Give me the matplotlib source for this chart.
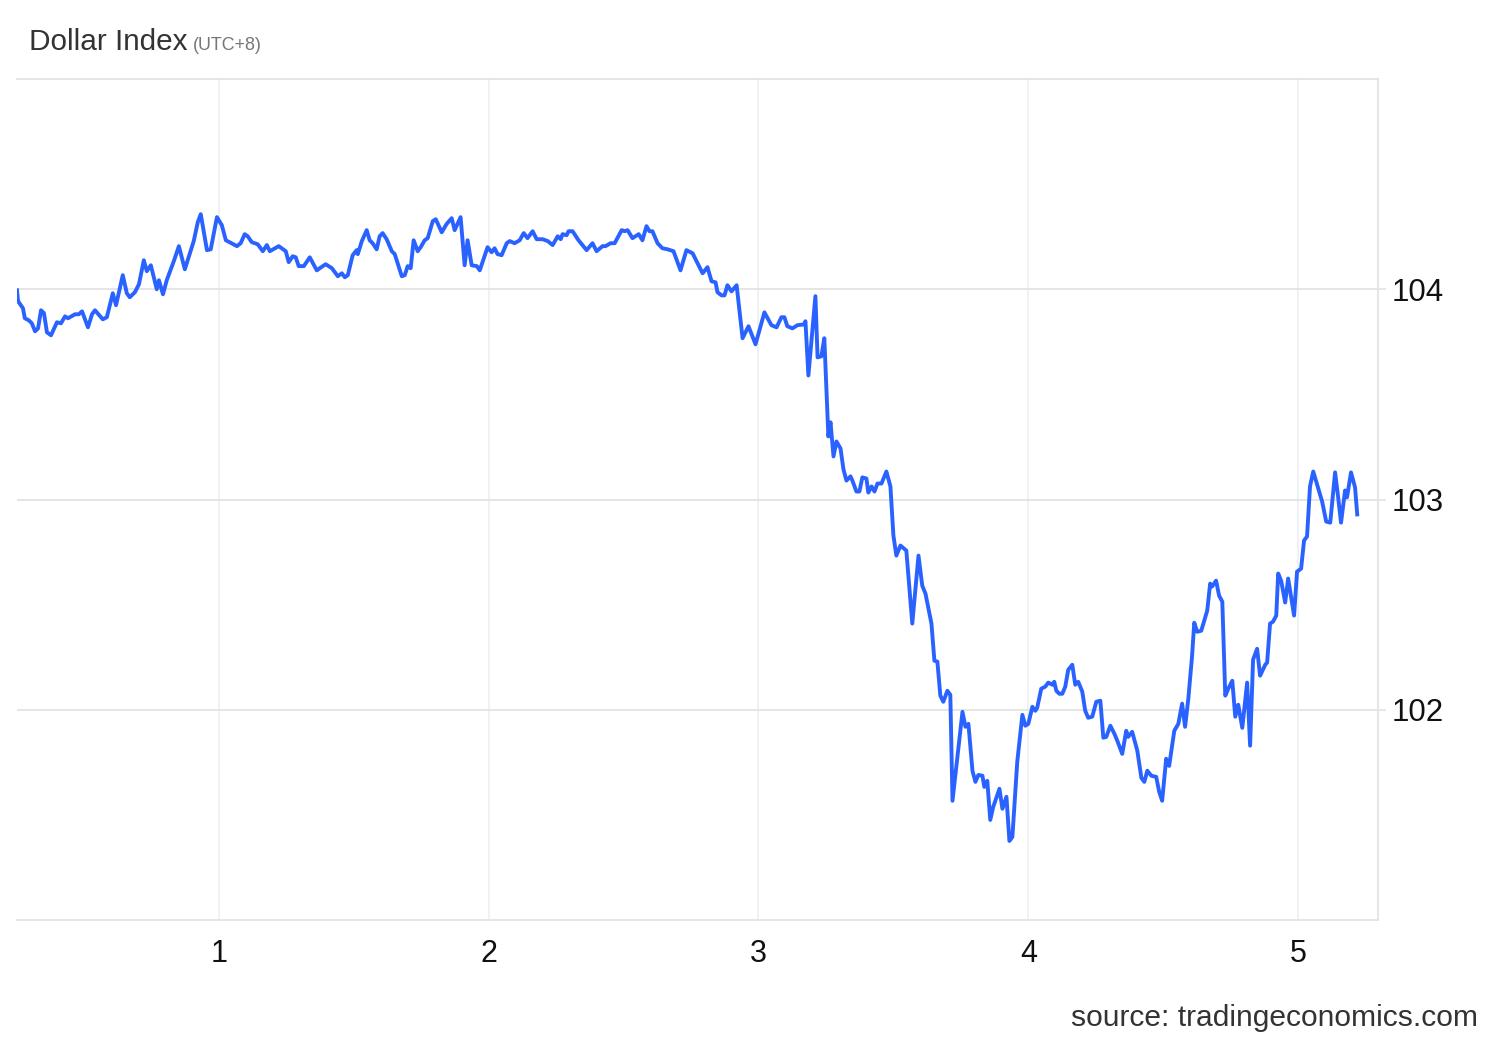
import matplotlib
matplotlib.use("Agg")
import matplotlib.pyplot as plt

plt.rcParams["font.family"] = ["Liberation Sans", "DejaVu Sans"]

# ---- datos (dia, indice) ----
dias = [
    0.252, 0.256, 0.274, 0.281, 0.296, 0.307, 0.319, 0.330, 0.341, 0.352,
    0.363, 0.378, 0.393, 0.400, 0.415, 0.430, 0.441, 0.467, 0.481, 0.493,
    0.515, 0.530, 0.541, 0.570, 0.585, 0.607, 0.619, 0.644, 0.659, 0.670,
    0.689, 0.704, 0.722, 0.733, 0.748, 0.770, 0.778, 0.793, 0.807, 0.833,
    0.852, 0.874, 0.907, 0.922, 0.933, 0.956, 0.970, 0.993, 1.011, 1.026,
    1.067, 1.081, 1.096, 1.107, 1.122, 1.144, 1.163, 1.178, 1.189, 1.222,
    1.248, 1.259, 1.274, 1.285, 1.296, 1.315, 1.337, 1.363, 1.374, 1.396,
    1.419, 1.441, 1.456, 1.467, 1.478, 1.496, 1.511, 1.515, 1.530, 1.548,
    1.559, 1.570, 1.585, 1.596, 1.607, 1.622, 1.641, 1.652, 1.678, 1.689,
    1.700, 1.711, 1.722, 1.737, 1.748, 1.763, 1.774, 1.793, 1.804, 1.826,
    1.844, 1.863, 1.874, 1.896, 1.911, 1.922, 1.937, 1.956, 1.967, 1.996,
    2.011, 2.022, 2.033, 2.048, 2.067, 2.078, 2.096, 2.115, 2.130, 2.144,
    2.163, 2.178, 2.200, 2.219, 2.237, 2.256, 2.267, 2.274, 2.289, 2.296,
    2.311, 2.333, 2.363, 2.385, 2.400, 2.422, 2.433, 2.452, 2.467, 2.493,
    2.504, 2.515, 2.533, 2.556, 2.570, 2.585, 2.596, 2.607, 2.626, 2.644,
    2.663, 2.685, 2.711, 2.733, 2.756, 2.774, 2.793, 2.811, 2.826, 2.841,
    2.848, 2.863, 2.874, 2.885, 2.900, 2.919, 2.941, 2.963, 2.989, 3.022,
    3.048, 3.067, 3.085, 3.096, 3.107, 3.126, 3.144, 3.170, 3.174, 3.185,
    3.211, 3.219, 3.233, 3.244, 3.259, 3.267, 3.278, 3.289, 3.304, 3.315,
    3.326, 3.341, 3.348, 3.363, 3.374, 3.385, 3.400, 3.407, 3.419, 3.430,
    3.441, 3.456, 3.474, 3.489, 3.500, 3.511, 3.526, 3.548, 3.570, 3.593,
    3.607, 3.619, 3.641, 3.652, 3.663, 3.674, 3.685, 3.700, 3.711, 3.719,
    3.756, 3.767, 3.778, 3.793, 3.804, 3.815, 3.830, 3.837, 3.848, 3.859,
    3.870, 3.893, 3.904, 3.919, 3.930, 3.941, 3.959, 3.978, 3.989, 4.000,
    4.015, 4.026, 4.033, 4.048, 4.063, 4.074, 4.089, 4.096, 4.104, 4.115,
    4.126, 4.137, 4.148, 4.163, 4.174, 4.185, 4.200, 4.211, 4.222, 4.237,
    4.252, 4.267, 4.278, 4.289, 4.304, 4.319, 4.330, 4.348, 4.363, 4.370,
    4.385, 4.404, 4.419, 4.430, 4.441, 4.456, 4.474, 4.485, 4.496, 4.511,
    4.522, 4.541, 4.556, 4.570, 4.581, 4.593, 4.607, 4.615, 4.626, 4.641,
    4.652, 4.663, 4.674, 4.681, 4.696, 4.707, 4.719, 4.730, 4.741, 4.756,
    4.767, 4.778, 4.793, 4.811, 4.822, 4.833, 4.848, 4.859, 4.878, 4.885,
    4.896, 4.907, 4.919, 4.926, 4.937, 4.952, 4.963, 4.985, 4.996, 5.011,
    5.022, 5.033, 5.044, 5.056, 5.078, 5.089, 5.104, 5.119, 5.137, 5.148,
    5.159, 5.174, 5.181, 5.196, 5.211, 5.219,
]
indice = [
    103.995, 103.943, 103.910, 103.862, 103.852, 103.838, 103.800, 103.814, 103.900, 103.886,
    103.795, 103.781, 103.824, 103.843, 103.838, 103.871, 103.862, 103.881, 103.881, 103.895,
    103.819, 103.881, 103.900, 103.857, 103.867, 103.981, 103.924, 104.067, 103.981, 103.962,
    103.986, 104.024, 104.138, 104.086, 104.114, 104.000, 104.043, 103.976, 104.043, 104.133,
    104.205, 104.095, 104.229, 104.319, 104.357, 104.186, 104.190, 104.343, 104.305, 104.233,
    104.205, 104.219, 104.262, 104.252, 104.224, 104.214, 104.181, 104.210, 104.181, 104.205,
    104.181, 104.129, 104.157, 104.152, 104.110, 104.110, 104.152, 104.090, 104.100, 104.119,
    104.100, 104.062, 104.076, 104.057, 104.067, 104.162, 104.186, 104.167, 104.229, 104.281,
    104.233, 104.219, 104.190, 104.252, 104.267, 104.238, 104.181, 104.167, 104.062, 104.067,
    104.110, 104.100, 104.233, 104.181, 104.200, 104.233, 104.243, 104.324, 104.333, 104.271,
    104.310, 104.338, 104.281, 104.343, 104.114, 104.233, 104.114, 104.110, 104.090, 104.200,
    104.176, 104.195, 104.167, 104.162, 104.219, 104.229, 104.219, 104.233, 104.267, 104.243,
    104.276, 104.238, 104.238, 104.229, 104.210, 104.252, 104.238, 104.262, 104.257, 104.276,
    104.276, 104.233, 104.186, 104.219, 104.181, 104.205, 104.205, 104.219, 104.219, 104.281,
    104.276, 104.281, 104.243, 104.262, 104.233, 104.300, 104.276, 104.276, 104.219, 104.195,
    104.190, 104.181, 104.090, 104.186, 104.171, 104.124, 104.076, 104.105, 104.038, 104.033,
    103.986, 103.971, 103.971, 104.019, 103.990, 104.019, 103.767, 103.824, 103.738, 103.890,
    103.829, 103.819, 103.867, 103.867, 103.824, 103.814, 103.829, 103.833, 103.848, 103.590,
    103.967, 103.676, 103.681, 103.767, 103.300, 103.367, 103.205, 103.276, 103.243, 103.143,
    103.090, 103.110, 103.090, 103.038, 103.038, 103.105, 103.100, 103.033, 103.062, 103.038,
    103.076, 103.076, 103.133, 103.062, 102.829, 102.733, 102.781, 102.757, 102.410, 102.733,
    102.590, 102.552, 102.410, 102.233, 102.229, 102.067, 102.038, 102.090, 102.071, 101.567,
    101.990, 101.919, 101.933, 101.710, 101.657, 101.690, 101.686, 101.633, 101.662, 101.476,
    101.538, 101.624, 101.529, 101.586, 101.376, 101.395, 101.752, 101.976, 101.924, 101.933,
    102.014, 101.995, 102.010, 102.100, 102.110, 102.129, 102.119, 102.133, 102.090, 102.076,
    102.076, 102.110, 102.190, 102.214, 102.119, 102.133, 102.086, 101.995, 101.962, 101.967,
    102.038, 102.043, 101.867, 101.871, 101.924, 101.886, 101.852, 101.790, 101.900, 101.871,
    101.895, 101.805, 101.676, 101.657, 101.710, 101.686, 101.681, 101.610, 101.567, 101.767,
    101.733, 101.900, 101.933, 102.029, 101.919, 102.052, 102.257, 102.414, 102.371, 102.376,
    102.424, 102.471, 102.600, 102.586, 102.614, 102.543, 102.514, 102.067, 102.100, 102.138,
    101.967, 102.024, 101.914, 102.129, 101.829, 102.238, 102.290, 102.162, 102.214, 102.224,
    102.410, 102.419, 102.448, 102.648, 102.614, 102.510, 102.624, 102.448, 102.657, 102.671,
    102.805, 102.824, 103.062, 103.133, 103.038, 102.990, 102.895, 102.890, 103.129, 103.014,
    102.890, 103.043, 103.010, 103.129, 103.057, 102.929,
]
x_ticks = [1, 2, 3, 4, 5]
y_ticks = [102, 103, 104]

fig = plt.figure(figsize=(15, 10.4), dpi=100)
ax = fig.add_axes([17 / 1500, 1 - 920 / 1040, (1378 - 17) / 1500, (920 - 79) / 1040])

ax.plot(dias, indice, color="#2962ff", lw=2.8, solid_joinstyle="round", zorder=3)

ax.set_xlim(0.252, 5.296)
ax.set_ylim(101.0, 105.0)

ax.set_xticks(x_ticks)
ax.set_xticklabels([str(t) for t in x_ticks])
ax.set_yticks(y_ticks)
ax.set_yticklabels([str(t) for t in y_ticks])
ax.yaxis.tick_right()
ax.tick_params(axis="x", length=0, pad=14, labelsize=22, labelcolor="#111111")
ax.tick_params(axis="y", length=6, width=1.2, color="#e3e3e3", pad=4,
               labelsize=22.5, labelcolor="#111111")

# rejilla: verticales azuladas muy claras, horizontales grises
ax.xaxis.grid(True, color="#edf0f5", lw=1.3)
ax.yaxis.grid(True, color="#e3e3e3", lw=1.3)
ax.set_axisbelow(True)

for s in ["top", "bottom", "right"]:
    ax.spines[s].set_color("#e3e3e3")
    ax.spines[s].set_linewidth(1.3)
ax.spines["left"].set_visible(False)

# titulo + zona horaria
t = fig.text(29 / 1500, 1 - 50 / 1040, "Dollar Index", fontsize=21.4,
             color="#333333", va="baseline", ha="left")
fig.canvas.draw()
bb = t.get_window_extent()
fig.text(bb.x1 / 1500 + 5 / 1500, 1 - 50 / 1040, "(UTC+8)", fontsize=12.9,
         color="#777777", va="baseline", ha="left")

fig.text(1478 / 1500, 1 - 1026 / 1040, "source: tradingeconomics.com",
         fontsize=21.6, color="#333333", ha="right", va="baseline")

fig.savefig("out.png", dpi=100, facecolor="white")
